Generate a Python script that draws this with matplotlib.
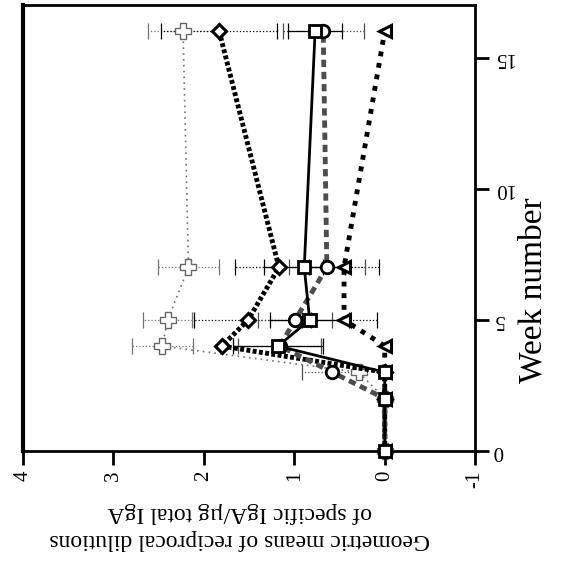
import numpy as np
import matplotlib.pyplot as plt

plt.rcParams['font.family'] = ['Liberation Serif', 'DejaVu Serif']

# weeks of sampling and geometric means (log10) per group
weeks = np.array([0, 2, 3, 4, 5, 7, 16])
square = np.array([0, 0, 0, 1.18, 0.83, 0.89, 0.77])
circle = np.array([0, 0, 0.58, 1.16, 0.99, 0.64, 0.68])
triangle = np.array([0, 0, 0, 0, 0.45, 0.45, 0.0])
diamond = np.array([0, 0, 0, 1.80, 1.51, 1.17, 1.83])
cross = np.array([0, 0, 0.29, 2.46, 2.40, 2.17, 2.23])

# error bar half widths
square_err = np.array([0, 0, 0, 0.50, 0.44, 0.45, 0.30])
circle_err = np.array([0, 0, 0.33, 0.46, 0.41, 0.42, 0.45])
triangle_err = np.array([0, 0, 0, 0, 0.36, 0.39, 0])
diamond_err = np.array([0, 0, 0, 0, 0.60, 0.49, 0.64])
cross_err = np.array([0, 0, 0, 0.34, 0.27, 0.34, 0.39])

fig = plt.figure(figsize=(5.61, 5.73), dpi=100)
ax = fig.add_axes([0.041, 0.213, 0.806, 0.778])

series = [
    # values, err, marker, color, line style, lw, err style, marker edge, size
    (cross, cross_err, 'P', '0.45', (0, (1, 2.5)), 1.2, ':', 1.0, 11),
    (diamond, diamond_err, 'D', 'black', (0, (0.8, 0.5)), 3.5, ':', 2.2, 7),
    (triangle, triangle_err, '<', 'black', (0, (1, 1.4)), 3.5, ':', 2.2, 9),
    (circle, circle_err, 'o', '0.3', (0, (1.5, 1)), 3.5, ':', 2.0, 9),
    (square, square_err, 's', 'black', '-', 2.0, '-', 2.0, 9),
]

for vals, err, mk, col, ls, lw, els, mew, ms in series:
    m = err > 0
    eb = ax.errorbar(vals[m], weeks[m], xerr=err[m], fmt='none', ecolor=col,
                     elinewidth=0.9, capsize=6, capthick=0.9, zorder=2)
    for c in eb[2]:
        c.set_linestyle(els)
    ax.plot(vals, weeks, linestyle=ls, color=col, lw=lw, marker=mk, ms=ms,
            mfc='white', mec='black' if col != '0.45' else '0.4', mew=mew,
            zorder=3, clip_on=False)

ax.set_xlim(4, -1)
ax.set_ylim(0, 17)

for s in ax.spines.values():
    s.set_linewidth(2)
ax.spines['left'].set_linewidth(3)

ax.set_xticks([4, 3, 2, 1, 0, -1])
ax.set_xticklabels(['4', '3', '2', '1', '0', '-1'], rotation=90, fontsize=15)
ax.yaxis.tick_right()
ax.yaxis.set_label_position('right')
ax.set_yticks([0, 5, 10, 15])
ax.set_yticklabels(['0', '5', '10', '15'], rotation=180, fontsize=15,
                   va='center')
ax.tick_params(axis='both', direction='out', length=10, width=2)
ax.tick_params(axis='x', pad=4)
ax.tick_params(axis='y', pad=3)

ax.set_ylabel('Week number', fontsize=24, rotation=90)
ax.yaxis.set_label_coords(1.095, 0.36)
ax.set_xlabel('Geometric means of reciprocal dilutions\nof specific IgA/\u00b5g total IgA',
              fontsize=17, rotation=180, linespacing=1.35)
ax.xaxis.set_label_coords(0.48, -0.115)
ax.xaxis.label.set_va('top')

fig.savefig('out.png', dpi=100)
